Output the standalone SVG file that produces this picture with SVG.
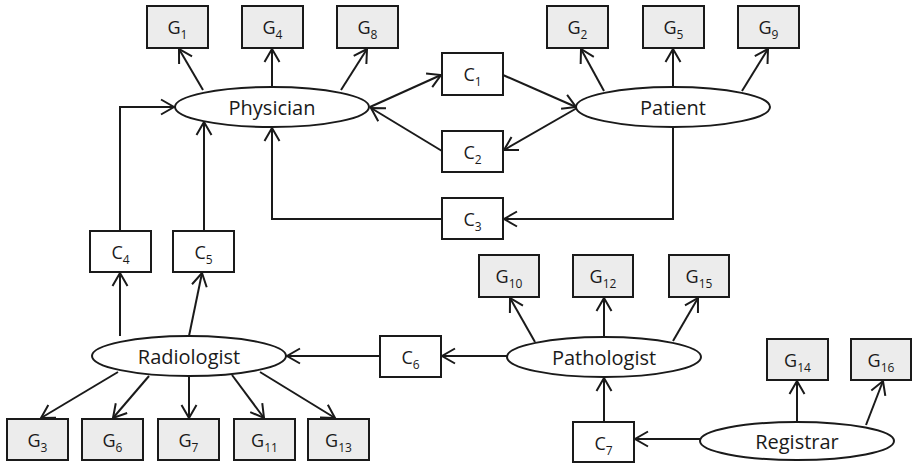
<svg xmlns="http://www.w3.org/2000/svg" width="912" height="463" viewBox="0 0 912 463">
<style>
.g rect{fill:#ececec;stroke:#1a1a1a;stroke-width:2}
.c rect{fill:#fff;stroke:#1a1a1a;stroke-width:2}
.e ellipse{fill:#fff;stroke:#1a1a1a;stroke-width:2}
text{font-family:"Open Sans","Liberation Sans",sans-serif;font-size:18px;fill:#1a1a1a;text-anchor:middle}
.e text{font-size:20px}
.s{font-size:12px}
#edges path,#edges line{fill:none;stroke:#1a1a1a;stroke-width:2;marker-end:url(#a)}
</style>
<defs>
<marker id="a" viewBox="-14 -9 16 18" markerWidth="16" markerHeight="18" refX="0" refY="0" orient="auto" markerUnits="userSpaceOnUse">
<path d="M-13,-7.5 L0,0 L-13,7.5" fill="none" stroke="#1a1a1a" stroke-width="2"/>
</marker>
</defs>
<rect width="912" height="463" fill="#fff"/>
<g id="edges">
<line x1="203" y1="90" x2="179" y2="49"/>
<line x1="272" y1="87" x2="272" y2="49"/>
<line x1="341" y1="90" x2="367" y2="49"/>
<line x1="604" y1="91" x2="581" y2="49"/>
<line x1="673" y1="87" x2="673" y2="49"/>
<line x1="742" y1="91" x2="768" y2="49"/>
<line x1="370" y1="107" x2="441" y2="75"/>
<line x1="442" y1="151" x2="371" y2="108"/>
<line x1="503" y1="75" x2="576" y2="107"/>
<line x1="577" y1="108" x2="504" y2="150"/>
<path d="M673,127 V219 H504"/>
<path d="M442,219 H272 V128"/>
<path d="M120,231 V107 H174"/>
<line x1="204" y1="231" x2="204" y2="122"/>
<line x1="120" y1="336" x2="120" y2="273"/>
<line x1="189" y1="336" x2="202" y2="273"/>
<line x1="380" y1="356" x2="287" y2="356"/>
<line x1="507" y1="356" x2="442" y2="356"/>
<line x1="118" y1="372" x2="41" y2="418"/>
<line x1="149" y1="376" x2="113" y2="418"/>
<line x1="189" y1="376" x2="189" y2="418"/>
<line x1="232" y1="375" x2="264" y2="418"/>
<line x1="260" y1="372" x2="335" y2="418"/>
<line x1="535" y1="342" x2="510" y2="298"/>
<line x1="604" y1="336" x2="604" y2="298"/>
<line x1="673" y1="341" x2="698" y2="298"/>
<line x1="604" y1="422" x2="604" y2="378"/>
<line x1="700" y1="439" x2="635" y2="439"/>
<line x1="797" y1="421" x2="797" y2="381"/>
<line x1="866" y1="425" x2="883" y2="381"/>
</g>
<g id="G1" class="g"><rect x="147" y="6" width="61" height="42"/><text x="177.5" y="34">G<tspan class="s" dy="5">1</tspan></text></g>
<g id="G4" class="g"><rect x="242" y="6" width="61" height="42"/><text x="272.5" y="34">G<tspan class="s" dy="5">4</tspan></text></g>
<g id="G8" class="g"><rect x="337" y="6" width="61" height="42"/><text x="367.5" y="34">G<tspan class="s" dy="5">8</tspan></text></g>
<g id="G2" class="g"><rect x="547" y="6" width="61" height="42"/><text x="577.5" y="34">G<tspan class="s" dy="5">2</tspan></text></g>
<g id="G5" class="g"><rect x="643" y="6" width="61" height="42"/><text x="673.5" y="34">G<tspan class="s" dy="5">5</tspan></text></g>
<g id="G9" class="g"><rect x="738" y="6" width="61" height="42"/><text x="768.5" y="34">G<tspan class="s" dy="5">9</tspan></text></g>
<g id="C1" class="c"><rect x="442" y="53" width="61" height="42"/><text x="472.5" y="81">C<tspan class="s" dy="5">1</tspan></text></g>
<g id="C2" class="c"><rect x="442" y="131" width="61" height="41"/><text x="472.5" y="159">C<tspan class="s" dy="5">2</tspan></text></g>
<g id="C3" class="c"><rect x="442" y="198" width="61" height="41"/><text x="472.5" y="226">C<tspan class="s" dy="5">3</tspan></text></g>
<g id="Physician" class="e"><ellipse cx="272" cy="107" rx="97" ry="20"/><text x="272" y="115">Physician</text></g>
<g id="Patient" class="e"><ellipse cx="673" cy="107" rx="97" ry="20"/><text x="673" y="115">Patient</text></g>
<g id="C4" class="c"><rect x="90" y="231" width="61" height="41"/><text x="120.5" y="259">C<tspan class="s" dy="5">4</tspan></text></g>
<g id="C5" class="c"><rect x="173" y="231" width="61" height="41"/><text x="203.5" y="259">C<tspan class="s" dy="5">5</tspan></text></g>
<g id="Radiologist" class="e"><ellipse cx="189" cy="356" rx="97" ry="20"/><text x="189" y="364">Radiologist</text></g>
<g id="C6" class="c"><rect x="380" y="336" width="61" height="41"/><text x="410.5" y="364">C<tspan class="s" dy="5">6</tspan></text></g>
<g id="Pathologist" class="e"><ellipse cx="604" cy="357" rx="97" ry="20"/><text x="604" y="365">Pathologist</text></g>
<g id="G10" class="g"><rect x="479" y="255" width="60" height="42"/><text x="509" y="283">G<tspan class="s" dy="5">10</tspan></text></g>
<g id="G12" class="g"><rect x="573" y="255" width="60" height="42"/><text x="603" y="283">G<tspan class="s" dy="5">12</tspan></text></g>
<g id="G15" class="g"><rect x="669" y="255" width="60" height="42"/><text x="699" y="283">G<tspan class="s" dy="5">15</tspan></text></g>
<g id="G3" class="g"><rect x="7" y="419" width="61" height="41"/><text x="37.5" y="447">G<tspan class="s" dy="5">3</tspan></text></g>
<g id="G6" class="g"><rect x="82" y="419" width="61" height="41"/><text x="112.5" y="447">G<tspan class="s" dy="5">6</tspan></text></g>
<g id="G7" class="g"><rect x="158" y="419" width="61" height="41"/><text x="188.5" y="447">G<tspan class="s" dy="5">7</tspan></text></g>
<g id="G11" class="g"><rect x="234" y="419" width="61" height="41"/><text x="264.5" y="447">G<tspan class="s" dy="5">11</tspan></text></g>
<g id="G13" class="g"><rect x="308" y="419" width="61" height="41"/><text x="338.5" y="447">G<tspan class="s" dy="5">13</tspan></text></g>
<g id="C7" class="c"><rect x="573" y="422" width="61" height="40"/><text x="603.5" y="450">C<tspan class="s" dy="5">7</tspan></text></g>
<g id="Registrar" class="e"><ellipse cx="797" cy="441" rx="97" ry="19"/><text x="797" y="449">Registrar</text></g>
<g id="G14" class="g"><rect x="767" y="339" width="61" height="41"/><text x="797.5" y="367">G<tspan class="s" dy="5">14</tspan></text></g>
<g id="G16" class="g"><rect x="851" y="339" width="60" height="41"/><text x="881" y="367">G<tspan class="s" dy="5">16</tspan></text></g>
</svg>
